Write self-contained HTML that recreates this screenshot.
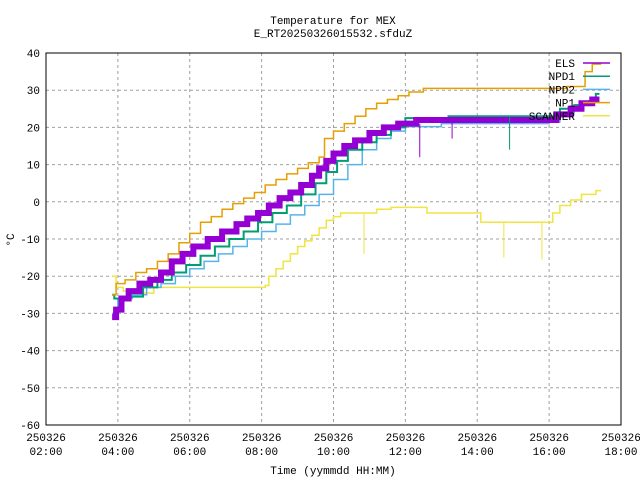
<!DOCTYPE html>
<html><head><meta charset="utf-8"><style>
body{margin:0;background:#fff;}
svg{display:block;font-family:"Liberation Mono",monospace;font-size:11px;}
</style></head><body>
<svg id="chart" width="640" height="480" xmlns="http://www.w3.org/2000/svg">
<rect width="640" height="480" fill="#fff"/>
<text x="333" y="24" text-anchor="middle">Temperature for MEX</text>
<text x="333" y="37" text-anchor="middle">E_RT20250326015532.sfduZ</text>
<text x="333" y="474" text-anchor="middle">Time (yymmdd HH:MM)</text>
<text x="14" y="240" text-anchor="middle" transform="rotate(-90 14 240)">°C</text>
<g id="grid"></g><g id="series"></g><g id="legend"></g>
<rect x="46" y="53" width="575" height="372" fill="none" stroke="#000"/>
</svg>
<script>
const yTicks=[40,30,20,10,0,-10,-20,-30,-40,-50,-60];
const xTicks=[2,4,6,8,10,12,14,16,18];
const xTickLabels=["02:00","04:00","06:00","08:00","10:00","12:00","14:00","16:00","18:00"];
const seriesNames=["ELS","NPD1","NPD2","NP1","SCANNER"];
const seriesColors=["#9400d3","#009e73","#56b4e9","#e69f00","#f0e442"];
const elsT=[3.84,3.95,4.1,4.3,4.6,4.9,5.2,5.5,5.8,6.1,6.5,6.9,7.3,7.6,7.9,8.2,8.5,8.8,9.1,9.4,9.6,9.8,10.0,10.3,10.6,11.0,11.4,11.8,12.3,16.0,16.2,16.6,16.9,17.2,17.4];
const elsV=[-31,-29,-26,-24,-22,-21,-19,-16,-14,-12,-10,-8,-6,-4.5,-3,-1,1,2.5,4.5,7,9,11,13,15,16.5,18.5,20,21,22,22,23.5,25,26.5,27.5,27.5];
const npd1T=[3.84,3.9,4.3,4.7,5.1,5.5,5.9,6.3,6.7,7.1,7.5,7.9,8.3,8.7,9.1,9.5,9.8,10.1,10.4,10.8,11.2,11.6,12.0,13.2,16.0,16.3,16.7,17.1,17.3,17.4];
const npd1V=[-25,-26,-25.5,-23,-21,-19,-17,-14.5,-12,-10,-8,-5.5,-3,-1,2,5,8,11,14,16,18,20,22.5,23,23,25,26,27,29,29];
const npd2T=[3.84,4.0,4.4,4.8,5.2,5.6,6.0,6.4,6.8,7.2,7.6,8.0,8.4,8.8,9.2,9.6,10.0,10.4,10.8,11.2,11.6,12.0,13.0,16.0,16.3,16.7,17.0,17.4];
const npd2V=[-30,-26,-25,-23,-22,-20,-18,-16,-14,-12,-10,-8,-6,-3.5,-1,2,6,10,14,17,19,20.2,21,21.5,24,26,27,27];
const np1T=[3.84,3.95,4.2,4.5,4.8,5.1,5.4,5.7,6.0,6.3,6.6,6.9,7.2,7.5,7.8,8.1,8.4,8.7,9.0,9.3,9.6,9.75,10.0,10.3,10.6,10.9,11.2,11.5,11.8,12.1,12.5,16.1,16.5,17.0,17.2,17.45];
const np1V=[-25,-22,-21,-19,-18,-16,-14,-11,-8.5,-5.5,-4,-2,-0.5,1,2.5,4.5,6,7.5,9,10.5,12,17,19,21,23,25,26.5,27.5,28.5,29.5,30.5,30.5,31,35,37,37];
const scanT=[3.84,3.95,4.15,4.6,5.0,7.5,8.1,8.2,8.4,8.6,8.8,9.0,9.2,9.4,9.6,9.8,10.0,10.2,11.2,11.6,12.6,14.1,15.8,16.1,16.3,16.6,16.9,17.3,17.45];
const scanV=[-20,-23,-24,-24.5,-23,-23,-22.5,-20,-18,-16,-14,-12,-10.5,-9,-7,-5,-4,-3,-2,-1.5,-3,-5.5,-5.5,-3,-1,0.5,2,3,3];
const spikeT=[10.85,14.74,15.8,12.4,14.9,13.3];
const spikeFrom=[-3,-5.5,-5.5,21,23,22];
const spikeTo=[-14,-15,-15.5,12,14,17];
const spikeSeries=[4,4,4,0,1,0];
const NS="http://www.w3.org/2000/svg";
const X=t=>46+(t-2)*575/16, Y=v=>53+(40-v)*372/100;
function mk(tag,attrs,parent){const e=document.createElementNS(NS,tag);for(const k in attrs)e.setAttribute(k,attrs[k]);parent.appendChild(e);return e;}
const grid=document.getElementById('grid'), ser=document.getElementById('series'), leg=document.getElementById('legend');
yTicks.forEach(v=>{
  const l=mk('line',{x1:46,x2:621,y1:Y(v),y2:Y(v),stroke:'#a0a0a0','stroke-dasharray':'3,3'},grid);
  
  
  const t=mk('text',{x:40,y:Y(v)+4,'text-anchor':'end'},grid);t.textContent=v;
  
  
});
xTicks.forEach((h,i)=>{
  const l=mk('line',{x1:X(h),x2:X(h),y1:53,y2:425,stroke:'#a0a0a0','stroke-dasharray':'3,3'},grid);
  
  
  const t=mk('text',{x:X(h),y:441,'text-anchor':'middle'},grid);t.textContent='250326';
  
  
  const t2=mk('text',{x:X(h),y:455,'text-anchor':'middle'},grid);t2.textContent=xTickLabels[i];
  
  
});
const data=[[elsT,elsV,6],[npd1T,npd1V,2],[npd2T,npd2V,1.5],[np1T,np1V,1.5],[scanT,scanV,1.5]];
const order=[4,2,1,3,0];
order.forEach(i=>{
  const [T,V,w]=data[i];let d='M'+X(T[0])+','+Y(V[0]);
  for(let k=1;k<T.length;k++){d+=' H'+X(T[k])+' V'+Y(V[k]);}
  const p=mk('path',{d:d,fill:'none',stroke:seriesColors[i],'stroke-width':w},ser);
  
  
});
spikeT.forEach((t,k)=>{
  const l=mk('line',{x1:X(t),x2:X(t),y1:Y(spikeFrom[k]),y2:Y(spikeTo[k]),stroke:seriesColors[spikeSeries[k]],'stroke-width':1},ser);
  
  
});
seriesNames.forEach((n,i)=>{
  const y=63+i*13.2;
  const t=mk('text',{x:575,y:y+4,'text-anchor':'end'},leg);t.textContent=n;
  
  
  const l=mk('line',{x1:583,x2:610,y1:y,y2:y,stroke:seriesColors[i],'stroke-width':1.5},leg);
  
  
});
</script>
</body></html>
